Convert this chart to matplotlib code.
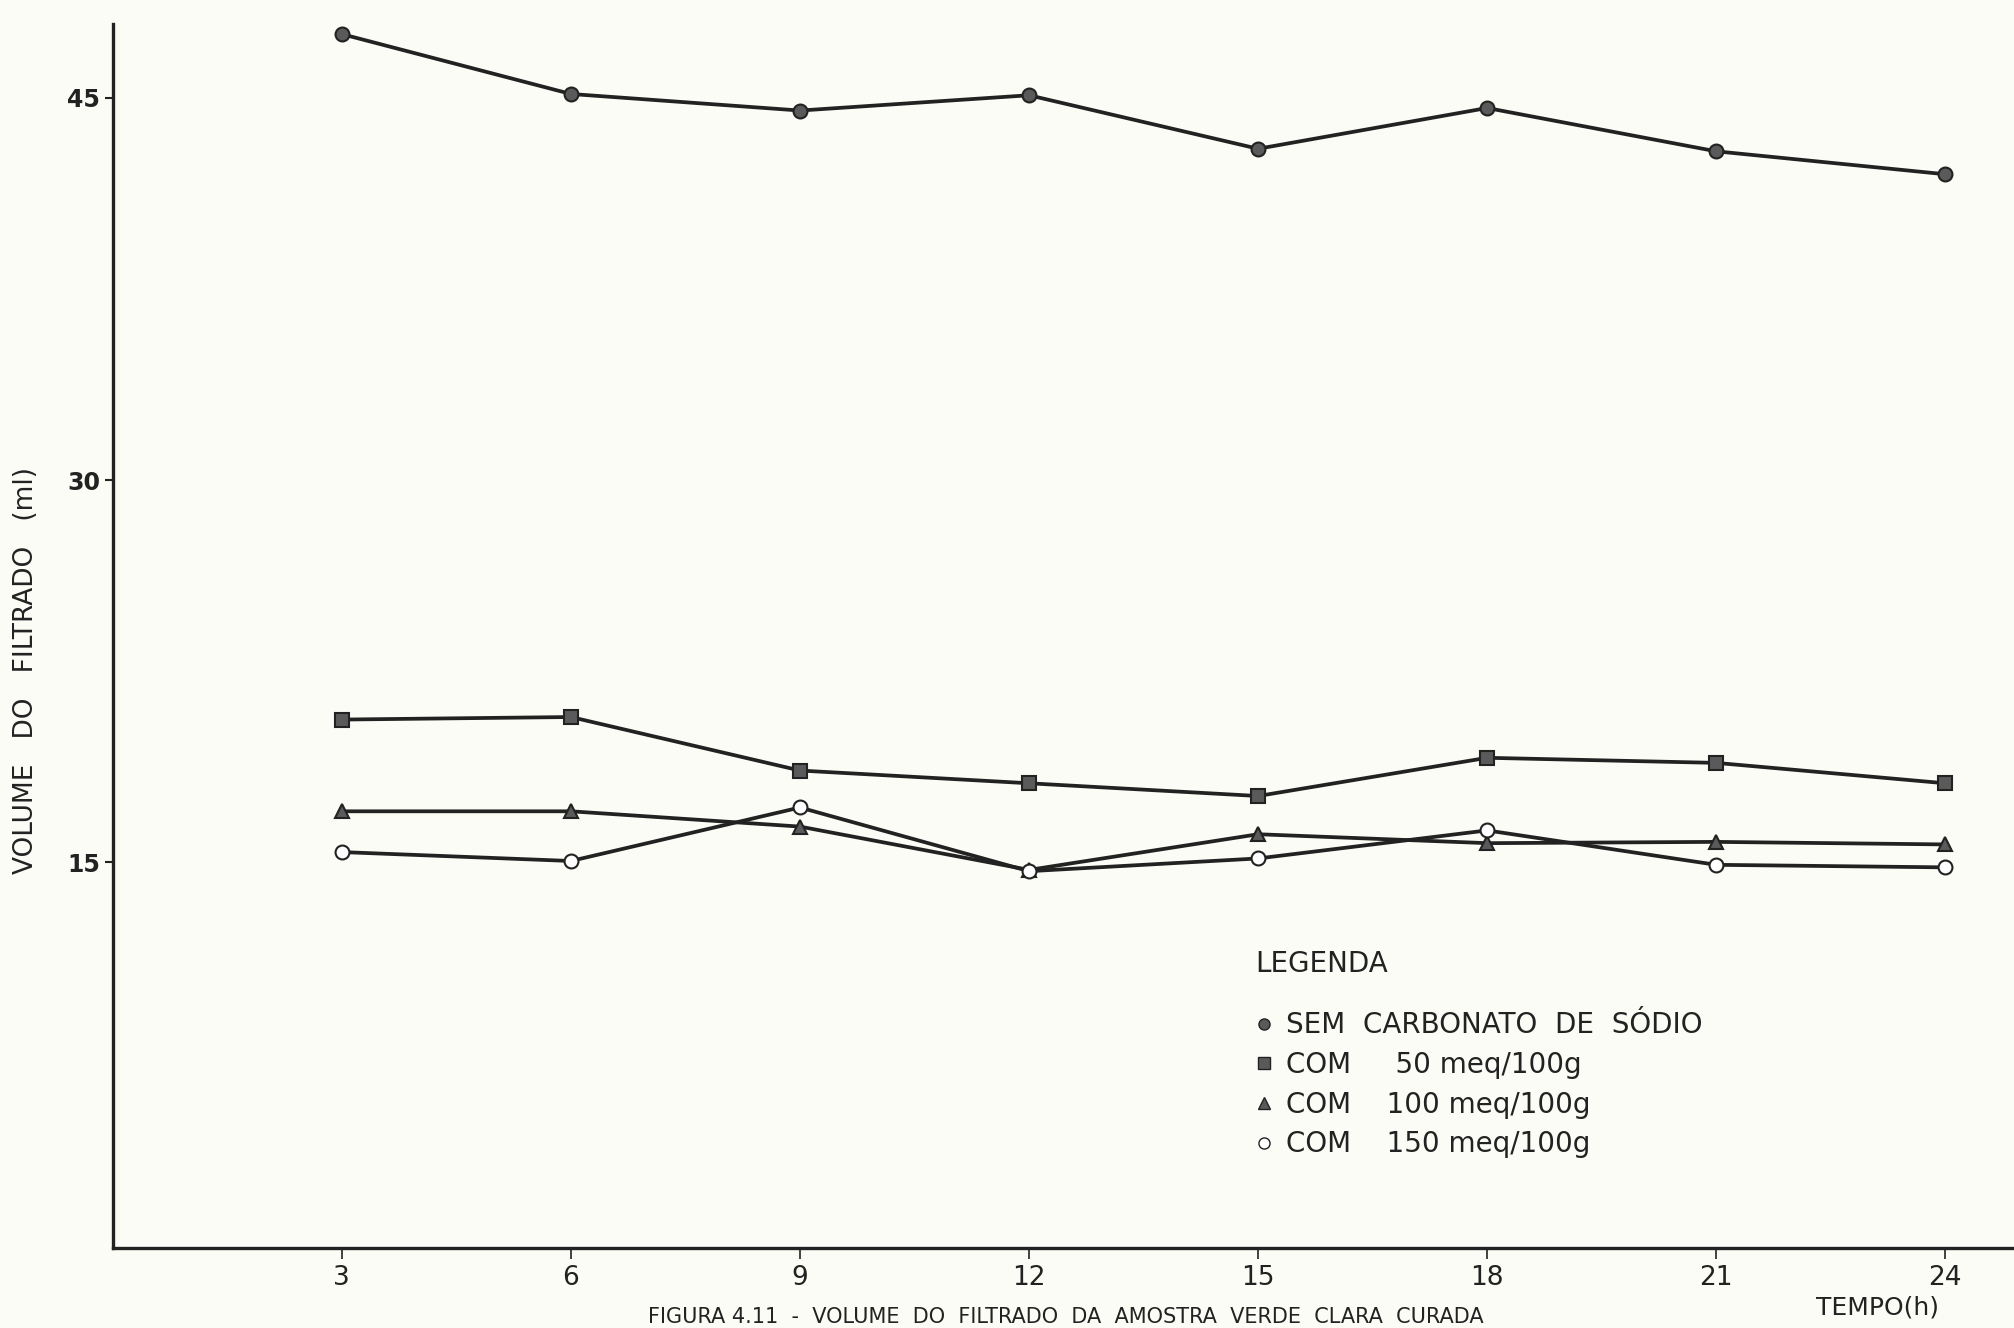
import matplotlib.pyplot as plt
from matplotlib.lines import Line2D

# tempo de cura (h)
tempo = [3, 6, 9, 12, 15, 18, 21, 24]

# volume do filtrado (ml)
sem_carbonato = [47.5, 45.15, 44.5, 45.1, 43.0, 44.6, 42.9, 42.0]
com_50 = [20.6, 20.7, 18.6, 18.1, 17.6, 19.1, 18.9, 18.1]
com_100 = [17.0, 17.0, 16.4, 14.7, 16.1, 15.75, 15.8, 15.7]
com_150 = [15.4, 15.05, 17.15, 14.65, 15.15, 16.25, 14.9, 14.8]

legend_labels = ["SEM  CARBONATO  DE  SÓDIO",
                 "COM     50 meq/100g",
                 "COM    100 meq/100g",
                 "COM    150 meq/100g"]

y_ticks = [15, 30, 45]

ink = "#222222"
fill = "#5a5a5a"
paper = "#fcfcf6"

fig = plt.figure(figsize=(20.14, 13.28), dpi=100, facecolor=paper)
ax = fig.add_axes([0.056, 0.060, 0.944, 0.922], facecolor=paper)

line_kw = dict(color=ink, linewidth=2.7, markersize=10, markeredgecolor=ink,
               markeredgewidth=1.5, zorder=3)
ax.plot(tempo, sem_carbonato, marker="o", markerfacecolor=fill, **line_kw)
ax.plot(tempo, com_50, marker="s", markerfacecolor=fill, **line_kw)
ax.plot(tempo, com_100, marker="^", markerfacecolor=fill, **line_kw)
ax.plot(tempo, com_150, marker="o", markerfacecolor="white", **line_kw)

ax.set_xlim(0, 24.9)
ax.set_ylim(-0.15, 47.9)
ax.set_xticks(tempo)
ax.set_yticks(y_ticks)

for side in ["top", "right"]:
    ax.spines[side].set_visible(False)
for side in ["left", "bottom"]:
    ax.spines[side].set_linewidth(2.4)
    ax.spines[side].set_color(ink)

ax.tick_params(axis="y", direction="out", length=6, width=1.5, colors=ink,
               labelsize=17, pad=3)
ax.tick_params(axis="x", direction="out", length=8, width=1.2, colors=ink,
               labelsize=19, pad=4)
for lbl in ax.get_yticklabels():
    lbl.set_fontweight("bold")

ax.set_ylabel("VOLUME   DO   FILTRADO   (ml)", fontsize=19, color=ink)
ax.yaxis.set_label_coords(-0.039, 0.472)

handles = [
    Line2D([], [], linestyle="none", marker="o", markersize=8, color=ink, markerfacecolor=fill),
    Line2D([], [], linestyle="none", marker="s", markersize=8, color=ink, markerfacecolor=fill),
    Line2D([], [], linestyle="none", marker="^", markersize=9, color=ink, markerfacecolor=fill),
    Line2D([], [], linestyle="none", marker="o", markersize=8, color=ink, markerfacecolor="white"),
]
leg = ax.legend(handles, legend_labels, title="LEGENDA", loc="upper left",
                bbox_to_anchor=(0.588, 0.264), frameon=False, fontsize=20,
                title_fontsize=20, handlelength=0.6, handletextpad=0.5,
                labelspacing=0.42, alignment="left")
leg.get_title().set_color(ink)
leg._legend_box.sep = 24
for t in leg.get_texts():
    t.set_color(ink)

fig.text(0.932, 0.0155, "TEMPO(h)", fontsize=18, color=ink, ha="center", va="center")
fig.text(0.529, 0.001, "FIGURA 4.11  -  VOLUME  DO  FILTRADO  DA  AMOSTRA  VERDE  CLARA  CURADA",
         fontsize=15, color=ink, ha="center", va="bottom")

fig.savefig("out.png", dpi=100, facecolor=paper)
